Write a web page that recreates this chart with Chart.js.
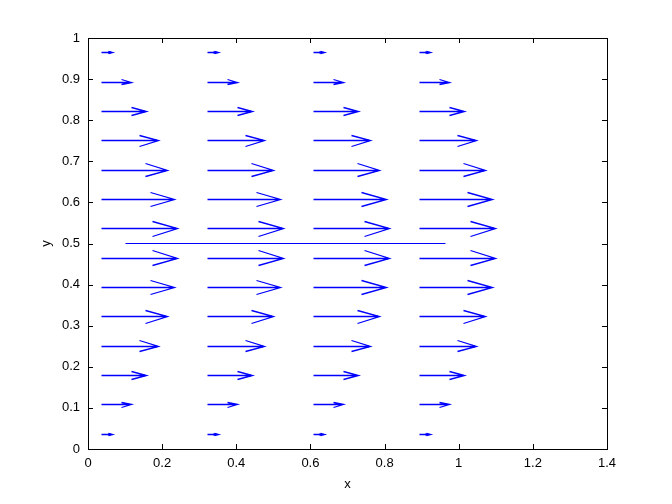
<!DOCTYPE html>
<html>
<head>
<meta charset="utf-8">
<script src="https://cdn.jsdelivr.net/npm/chart.js@4"></script>
<style>
  html, body { margin: 0; padding: 0; background: #fff; }
  #wrap { width: 672px; height: 504px; }
</style>
</head>
<body>
<div id="wrap"><canvas id="quiver" width="672" height="504"></canvas></div>
<script>
// arrow grid
const xStarts = [0.0357, 0.3214, 0.6071, 0.8929]
const yRows = [0.0357, 0.1071, 0.1786, 0.25, 0.3214, 0.3929, 0.4643,
               0.5357, 0.6071, 0.6786, 0.75, 0.8214, 0.8929, 0.9643]
// horizontal velocity per row (same for every column)
const uValues = [0.030, 0.081, 0.122, 0.155, 0.180, 0.197, 0.206,
                 0.206, 0.197, 0.180, 0.155, 0.122, 0.081, 0.030]
// the straight segment across the middle
const lineX = [0.1, 0.965]
const lineY = [0.5, 0.5]

const xTicks = [0, 0.2, 0.4, 0.6, 0.8, 1, 1.2, 1.4]
const yTicks = [0, 0.1, 0.2, 0.3, 0.4, 0.5, 0.6, 0.7, 0.8, 0.9, 1]

const blue = 'rgb(0,0,255)'
const font = '"Liberation Sans", Arial, Helvetica, sans-serif'

// quiver arrowhead like matlab: barbs go back a third of the length
const headBack = 0.33
const headWide = 0.085

function buildArrows() {
    let pts = []
    let tips = []
    xStarts.forEach(x0 => {
        yRows.forEach((y, i) => {
            let u = uValues[i]
            let tip = x0 + u
            pts.push({x: x0, y: y}, {x: tip, y: y}, {x: tip, y: null})
            pts.push({x: tip - headBack * u, y: y + headWide * u}, {x: tip, y: y},
                     {x: tip - headBack * u, y: y - headWide * u}, {x: tip, y: null})
            tips.push({x: tip - 0.009, y: y})
        })
    })
    return {pts, tips}
}

const arrows = buildArrows()

// put the drawn points on pixel centres so thin lines stay crisp
const snap = {
    id: 'snap',
    afterDatasetsUpdate(chart) {
        chart.data.datasets.forEach((ds, i) => {
            chart.getDatasetMeta(i).data.forEach(el => {
                if (!el.skip) {
                    el.x = Math.floor(el.x) + 0.5
                    el.y = Math.floor(el.y) + 0.5
                }
            })
        })
    }
}

// box, inward ticks and axis titles
const frame = {
    id: 'frame',
    afterDraw(chart) {
        const ctx = chart.ctx
        const a = chart.chartArea
        const xs = chart.scales.x
        const ys = chart.scales.y
        ctx.save()
        ctx.strokeStyle = '#000'
        ctx.lineWidth = 1
        ctx.strokeRect(Math.round(a.left) + 0.5, Math.round(a.top) + 0.5,
                       Math.round(a.right - a.left), Math.round(a.bottom - a.top))
        ctx.beginPath()
        xTicks.forEach(v => {
            let px = Math.round(xs.getPixelForValue(v)) + 0.5
            ctx.moveTo(px, a.bottom); ctx.lineTo(px, a.bottom - 5)
            ctx.moveTo(px, a.top); ctx.lineTo(px, a.top + 5)
        })
        yTicks.forEach(v => {
            let py = Math.round(ys.getPixelForValue(v)) + 0.5
            ctx.moveTo(a.left, py); ctx.lineTo(a.left + 5, py)
            ctx.moveTo(a.right, py); ctx.lineTo(a.right - 5, py)
        })
        ctx.stroke()

        ctx.fillStyle = '#000'
        ctx.font = '13px ' + font
        ctx.textAlign = 'center'
        ctx.textBaseline = 'middle'
        ctx.fillText('x', (a.left + a.right) / 2, 484)
        ctx.translate(46, (a.top + a.bottom) / 2)
        ctx.rotate(-Math.PI / 2)
        ctx.fillText('y', 0, 0)
        ctx.restore()
    }
}

new Chart('quiver', {
    type: 'scatter',
    data: {
        datasets: [
            {
                label: 'arrows',
                data: arrows.pts,
                showLine: true,
                spanGaps: false,
                borderColor: blue,
                borderWidth: 1.3,
                pointRadius: 0,
                fill: false
            },
            {
                label: 'heads',
                data: arrows.tips,
                pointStyle: 'rect',
                pointRadius: 1.6,
                backgroundColor: blue,
                borderColor: blue,
                borderWidth: 0
            },
            {
                label: 'line',
                data: lineX.map((x, i) => ({x: x, y: lineY[i]})),
                showLine: true,
                borderColor: blue,
                borderWidth: 1,
                pointRadius: 0
            }
        ]
    },
    options: {
        responsive: false,
        animation: false,
        events: [],
        layout: { padding: { left: 0, right: 65, top: 38, bottom: 0 } },
        plugins: {
            legend: { display: false },
            tooltip: { enabled: false }
        },
        scales: {
            x: {
                type: 'linear',
                min: 0,
                max: 1.4,
                afterFit: s => { s.height = 55 },
                afterBuildTicks: s => { s.ticks = xTicks.map(v => ({value: v})) },
                grid: { display: false, drawTicks: false },
                border: { display: false },
                ticks: {
                    color: '#000',
                    padding: 7,
                    maxRotation: 0,
                    font: { family: font, size: 13 },
                    callback: v => String(v)
                }
            },
            y: {
                type: 'linear',
                min: 0,
                max: 1,
                afterFit: s => { s.width = 88 },
                afterBuildTicks: s => { s.ticks = yTicks.map(v => ({value: v})) },
                grid: { display: false, drawTicks: false },
                border: { display: false },
                ticks: {
                    color: '#000',
                    padding: 8,
                    font: { family: font, size: 13 },
                    callback: v => String(v)
                }
            }
        }
    },
    plugins: [snap, frame]
})
</script>
</body>
</html>
